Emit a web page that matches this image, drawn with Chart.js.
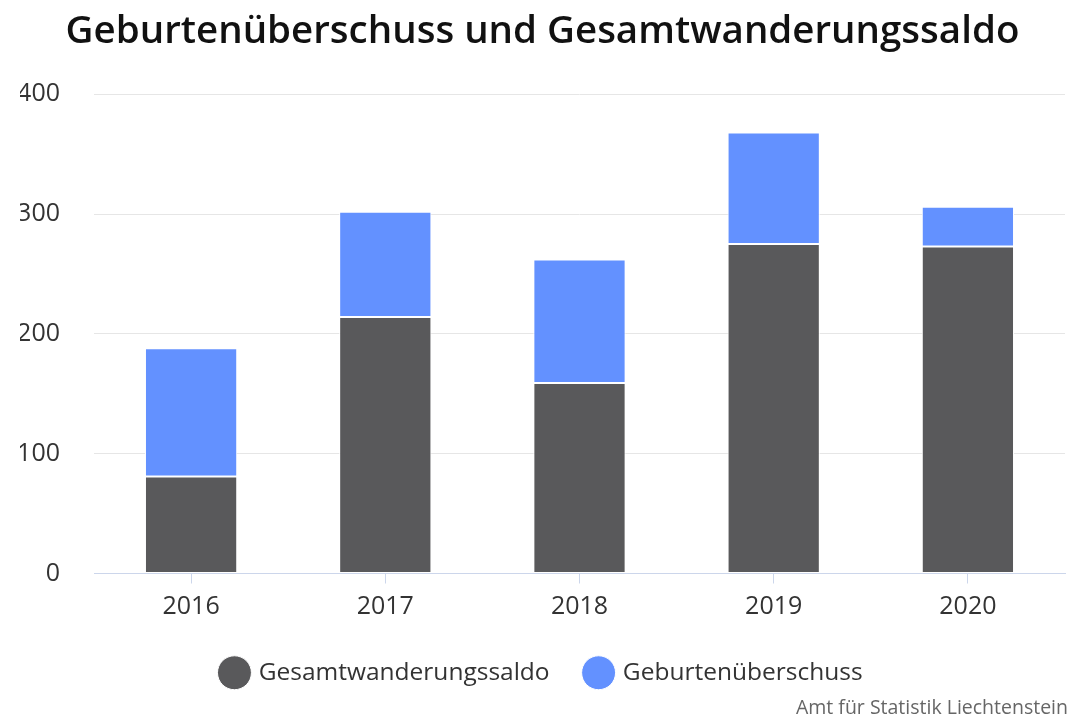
<!DOCTYPE html>
<html>
<head>
<meta charset="utf-8">
<script src="https://cdn.jsdelivr.net/npm/chart.js@4"></script>
<style>
  html, body { margin: 0; padding: 0; background: #ffffff; }
  #wrap { width: 1081px; height: 720px; }
</style>
</head>
<body>
<div id="wrap"><canvas id="chart"></canvas></div>
<script>
// Werte
const jahre = ['2016', '2017', '2018', '2019', '2020'];
const wanderungssaldo = [81, 214, 159, 275, 273];
const geburtenueberschuss = [107, 88, 103, 93, 33];
const yTicks = [0, 100, 200, 300, 400];

const quelle = 'Amt für Statistik Liechtenstein';
const schrift = '"Open Sans", "DejaVu Sans", sans-serif';
const achsenFarbe = '#ccd6eb';

// Quellenangabe unten rechts
const quellePlugin = {
    id: 'quelle',
    afterDraw(chart) {
        const ctx = chart.ctx;
        ctx.save();
        ctx.font = '19.5px ' + schrift;
        ctx.fillStyle = '#666666';
        ctx.textAlign = 'right';
        ctx.textBaseline = 'middle';
        ctx.fillText(quelle, 1068, 708);
        ctx.restore();
    }
};

const ctx = document.getElementById('chart').getContext('2d');
new Chart(ctx, {
    type: 'bar',
    data: {
        labels: jahre,
        datasets: [
            {
                label: 'Gesamtwanderungssaldo',
                data: wanderungssaldo,
                backgroundColor: '#59595b',
                borderColor: '#ffffff',
                borderWidth: 1,
                borderSkipped: false
            },
            {
                label: 'Geburtenüberschuss',
                data: geburtenueberschuss,
                backgroundColor: '#6391ff',
                borderColor: '#ffffff',
                borderWidth: 1,
                borderSkipped: false
            }
        ]
    },
    options: {
        responsive: true,
        maintainAspectRatio: false,
        animation: false,
        layout: { padding: { left: 20, right: 16, top: 0, bottom: 25 } },
        datasets: { bar: { categoryPercentage: 1, barPercentage: 0.475 } },
        plugins: {
            title: {
                display: true,
                text: 'Geburtenüberschuss und Gesamtwanderungssaldo',
                color: '#111111',
                font: { family: schrift, size: 38.5, weight: '600' },
                padding: { top: 9, bottom: 39 }
            },
            legend: {
                position: 'bottom',
                labels: {
                    usePointStyle: true,
                    pointStyle: 'circle',
                    boxWidth: 24,
                    boxHeight: 24,
                    padding: 37,
                    color: '#333333',
                    font: { family: schrift, size: 24.5 }
                }
            },
            tooltip: { enabled: false }
        },
        scales: {
            x: {
                stacked: true,
                afterFit: s => { s.height = 50; },
                grid: {
                    offset: false,
                    drawOnChartArea: false,
                    drawTicks: true,
                    tickLength: 10,
                    color: achsenFarbe
                },
                border: { display: true, color: achsenFarbe, width: 1 },
                ticks: {
                    color: '#333333',
                    padding: 8,
                    font: { family: schrift, size: 25 }
                }
            },
            y: {
                stacked: true,
                min: 0,
                max: 400,
                afterFit: s => { s.width = 74; },
                afterBuildTicks: s => { s.ticks = yTicks.map(v => ({ value: v })); },
                grid: {
                    color: c => (c.tick && c.tick.value === 0 ? achsenFarbe : '#e6e6e6'),
                    drawTicks: false,
                    lineWidth: 1
                },
                border: { display: false },
                ticks: {
                    color: '#333333',
                    padding: 34,
                    font: { family: schrift, size: 25 }
                }
            }
        }
    },
    plugins: [quellePlugin]
});
</script>
</body>
</html>
